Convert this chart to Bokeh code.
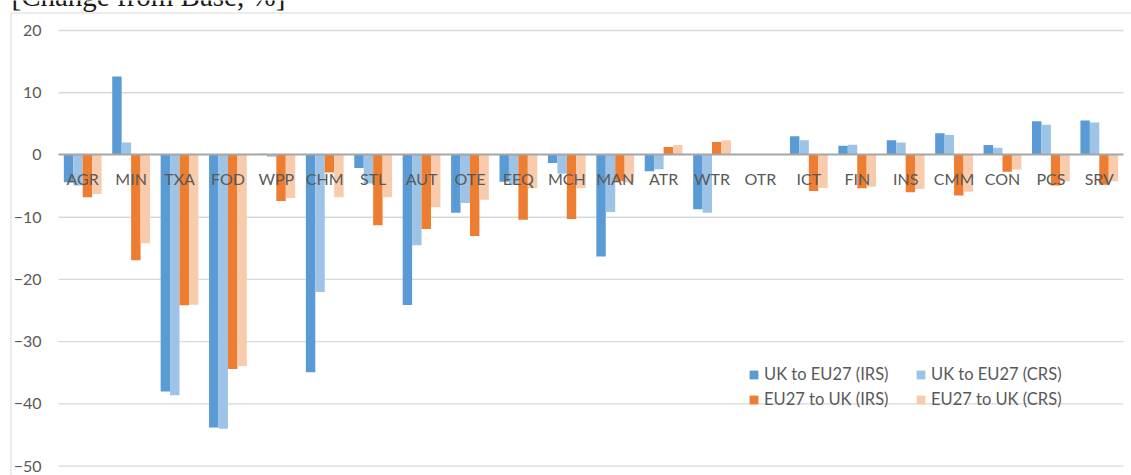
from bokeh.plotting import figure
from bokeh.models import (ColumnDataSource, LinearAxis, FixedTicker, Legend,
                          LegendItem, Range1d)
from bokeh.transform import dodge
from bokeh.core.properties import value
from bokeh.embed import file_html
from bokeh.resources import INLINE

# ---- data -------------------------------------------------------------
sectors = ["AGR", "MIN", "TXA", "FOD", "WPP", "CHM", "STL", "AUT", "OTE", "EEQ",
           "MCH", "MAN", "ATR", "WTR", "OTR", "ICT", "FIN", "INS", "CMM", "CON",
           "PCS", "SRV"]

uk_to_eu27_irs = [-4.4, 12.6, -38.0, -43.8, 0.2, -34.9, -2.1, -24.1, -9.3, -4.3,
                  -1.3, -16.3, -2.6, -8.7, 0.0, 3.0, 1.5, 2.35, 3.5, 1.6, 5.4, 5.55]
uk_to_eu27_crs = [-4.9, 2.0, -38.6, -44.0, -0.3, -22.0, -4.6, -14.5, -7.7, -4.8,
                  -3.0, -9.15, -2.3, -9.3, 0.0, 2.35, 1.65, 2.0, 3.2, 1.15, 4.85, 5.2]
eu27_to_uk_irs = [-6.8, -16.9, -24.15, -34.4, -7.4, -2.8, -11.3, -11.9, -13.0, -10.4,
                  -10.3, -4.2, 1.3, 2.1, 0.0, -5.8, -5.35, -6.0, -6.5, -2.7, -4.9, -4.8]
eu27_to_uk_crs = [-6.25, -14.2, -24.05, -33.9, -6.9, -6.8, -6.8, -8.4, -7.2, -5.35,
                  -5.35, -4.4, 1.6, 2.35, 0.0, -5.3, -5.1, -5.45, -5.9, -2.35, -4.2, -4.2]

series_names = ["UK to EU27 (IRS)", "UK to EU27 (CRS)",
                "EU27 to UK (IRS)", "EU27 to UK (CRS)"]
y_ticks = [-50, -40, -30, -20, -10, 0, 10, 20]
title_text = "[Change from Base, %]"

# ---- layout -----------------------------------------------------------
W, H = 1131, 475
PLOT_L, PLOT_R = 58, 1123          # plot area, px
Y_TOP_PX, Y_BOT_PX = 30.0, 465.7   # px of the top and bottom tick
n = len(sectors)
xu = (PLOT_R - PLOT_L) / n
yu = (Y_BOT_PX - Y_TOP_PX) / (max(y_ticks) - min(y_ticks))

def px2x(px):
    return (px - PLOT_L) / xu

def px2y(py):
    return max(y_ticks) - (py - Y_TOP_PX) / yu

TEXT = "#595959"
GRID = "#d9d9d9"
FONT = "Lato"
colors = ["#5b9bd5", "#9dc3e6", "#ed7d31", "#f8cbad"]

p = figure(width=W, height=H, output_backend="svg", toolbar_location=None,
           x_range=Range1d(px2x(0), px2x(W)), y_range=Range1d(px2y(H), px2y(0)),
           min_border=0, min_border_left=0, min_border_right=0,
           min_border_top=0, min_border_bottom=0,
           x_axis_location=None, y_axis_location=None)
p.outline_line_color = None
p.grid.visible = False
p.background_fill_color = "white"
p.border_fill_color = "white"

# chart-area border (left and top edges)
p.line(x=[px2x(10.5), px2x(10.5), px2x(W)], y=[px2y(H), px2y(12.5), px2y(12.5)],
       line_color="#d9d9d9", line_width=1)

# horizontal gridlines
grid_ticks = [t for t in y_ticks if t != 0]
p.segment(x0=[0] * len(grid_ticks), x1=[n] * len(grid_ticks),
          y0=grid_ticks, y1=grid_ticks, line_color=GRID, line_width=1.3,
          level="underlay")

# bars
src = ColumnDataSource(dict(
    x=[i + 0.5 for i in range(n)],
    s0=uk_to_eu27_irs, s1=uk_to_eu27_crs, s2=eu27_to_uk_irs, s3=eu27_to_uk_crs,
))
bw = 0.195
renderers = []
for k, col in enumerate(["s0", "s1", "s2", "s3"]):
    r = p.vbar(x=dodge("x", (k - 1.5) * bw), top=col, bottom=0, width=bw,
               source=src, fill_color=colors[k], line_color=None)
    renderers.append(r)

# value axis, drawn inside the canvas
yaxis = LinearAxis(fixed_location=px2x(PLOT_L), ticker=FixedTicker(ticks=y_ticks))
yaxis.axis_line_color = None
yaxis.major_tick_line_color = None
yaxis.minor_tick_line_color = None
yaxis.major_tick_out = 0
yaxis.major_label_standoff = 17
yaxis.major_label_text_font = FONT
yaxis.major_label_text_font_size = "16px"
yaxis.major_label_text_color = TEXT
p.add_layout(yaxis, "left")

# category axis on the zero line
xaxis = LinearAxis(fixed_location=0, bounds=(0, n),
                   ticker=FixedTicker(ticks=[i + 0.5 for i in range(n)]))
xaxis.major_label_overrides = {i + 0.5: s for i, s in enumerate(sectors)}
xaxis.axis_line_color = "#a6a6a6"
xaxis.axis_line_width = 2
xaxis.major_tick_line_color = None
xaxis.minor_tick_line_color = None
xaxis.major_tick_out = 0
xaxis.major_tick_in = 0
xaxis.major_label_standoff = 14
xaxis.major_label_text_font = FONT
xaxis.major_label_text_font_size = "16px"
xaxis.major_label_text_color = TEXT
p.add_layout(xaxis, "below")

# heading above the chart area, running off the top edge
p.text(x=[px2x(11)], y=[px2y(-5)], text=[title_text],
       text_font=value("Liberation Serif"), text_font_size="29px",
       text_color="#1a1a1a", text_baseline="alphabetic", text_align="left")

# legend: two columns of two entries
def make_legend(items, left):
    lg = Legend(items=items, location=(left, 66), orientation="vertical")
    lg.border_line_color = None
    lg.background_fill_alpha = 0
    lg.padding = 0
    lg.margin = 0
    lg.spacing = 5
    lg.glyph_width = 11
    lg.glyph_height = 11
    lg.label_height = 20
    lg.label_standoff = 5
    lg.label_text_font = FONT
    lg.label_text_font_size = "16.5px"
    lg.label_text_color = TEXT
    return lg

leg1 = make_legend([LegendItem(label=series_names[0], renderers=[renderers[0]]),
                    LegendItem(label=series_names[2], renderers=[renderers[2]])], 748)
leg2 = make_legend([LegendItem(label=series_names[1], renderers=[renderers[1]]),
                    LegendItem(label=series_names[3], renderers=[renderers[3]])], 915)
p.add_layout(leg1, "center")
p.add_layout(leg2, "center")

open("out.html", "w").write(file_html(p, INLINE))
